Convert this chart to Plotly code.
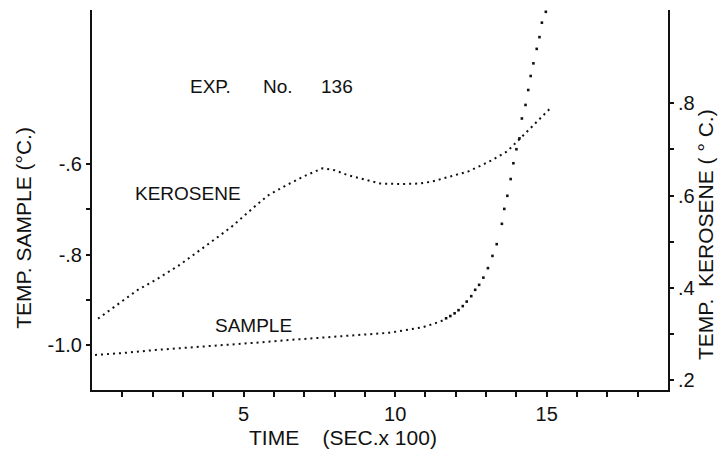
import plotly.graph_objects as go

# ---- data ----
kero_t = [0.2, 1.0, 1.5, 2.1, 2.9, 3.8, 4.6, 5.4, 5.8, 6.4, 7.0, 7.6, 8.0, 8.4,
          9.0, 9.5, 10.2, 10.8, 11.2, 11.8, 12.4, 12.8, 13.2, 13.7, 14.1, 14.4,
          14.7, 15.1]
kero_v = [0.333, 0.372, 0.395, 0.417, 0.450, 0.493, 0.532, 0.578, 0.600, 0.622,
          0.642, 0.659, 0.655, 0.645, 0.634, 0.626, 0.625, 0.626, 0.630, 0.641,
          0.652, 0.664, 0.677, 0.696, 0.722, 0.742, 0.760, 0.788]

sample_t = [0.1, 1.0, 2.1, 3.2, 4.3, 5.4, 6.5, 7.6, 8.7, 9.8, 10.9, 11.5,
            11.68, 11.82, 11.96, 12.09, 12.23, 12.36, 12.51, 12.64, 12.77, 12.91,
            13.06, 13.21, 13.35, 13.52, 13.60, 13.70, 13.81, 13.90, 14.00, 14.10,
            14.18, 14.30, 14.39, 14.47, 14.56, 14.67, 14.76, 14.84, 14.97]
sample_v = [-1.022, -1.018, -1.011, -1.006, -1.000, -0.995, -0.989, -0.984, -0.978,
            -0.973, -0.961, -0.948,
            -0.941, -0.936, -0.930, -0.923, -0.914, -0.904, -0.892, -0.878, -0.867,
            -0.851, -0.830, -0.803, -0.777, -0.732, -0.699, -0.670, -0.633, -0.598,
            -0.567, -0.543, -0.499, -0.469, -0.436, -0.405, -0.377, -0.345, -0.319,
            -0.287, -0.263]
STEEP_START = 12  # index where individual sample dots become widely spaced

x_ticks = list(range(1, 19))
x_labels = ["5" if v == 5 else "10" if v == 10 else "15" if v == 15 else "" for v in x_ticks]
left_ticks = [-1.0, -0.9, -0.8, -0.7, -0.6]
left_labels = ["-1.0", "", "-.8", "", "-.6"]
right_ticks = [0.2, 0.3, 0.4, 0.5, 0.6, 0.7, 0.8]
right_labels = [".2", "", ".4", "", ".6", "", ".8"]

X_RANGE = [0, 19.0]
LEFT_RANGE = [-1.0996, -0.259]
RIGHT_RANGE = [0.1783, 1.0023]

FONT = "Liberation Sans, Arial, sans-serif"
INK = "#111111"

fig = go.Figure()

# kerosene (right axis), dotted line
fig.add_trace(go.Scatter(x=kero_t, y=kero_v, yaxis="y2", mode="lines",
                         line=dict(color=INK, width=2, dash="2px,4px"),
                         hoverinfo="skip"))
# sample (left axis): dense dotted part, then individual dots
fig.add_trace(go.Scatter(x=sample_t[:STEEP_START + 1], y=sample_v[:STEEP_START + 1],
                         mode="lines", line=dict(color=INK, width=2, dash="2px,4px"),
                         hoverinfo="skip"))
fig.add_trace(go.Scatter(x=sample_t[STEEP_START:], y=sample_v[STEEP_START:],
                         mode="markers", marker=dict(color=INK, size=2.6, symbol="square"),
                         hoverinfo="skip"))

tickfont = dict(family=FONT, size=20, color=INK)

# page body adds an 8px offset; figure sized/positioned to compensate
fig.update_layout(
    width=718, height=441,
    margin=dict(l=84, r=58, t=2, b=59),
    paper_bgcolor="white", plot_bgcolor="white",
    showlegend=False,
    font=dict(family=FONT, color=INK),
    xaxis=dict(range=X_RANGE, tickmode="array", tickvals=x_ticks, ticktext=x_labels,
               ticks="outside", ticklen=5, tickwidth=1.5, tickcolor=INK,
               showline=True, linewidth=2, linecolor=INK, showgrid=False,
               zeroline=False, tickfont=tickfont, fixedrange=True),
    xaxis2=dict(range=X_RANGE, overlaying="x", anchor="y", side="bottom",
                tickmode="array", tickvals=x_ticks, ticks="inside", ticklen=4,
                tickwidth=1.5, tickcolor=INK, showticklabels=False,
                showline=False, showgrid=False, zeroline=False),
    yaxis=dict(range=LEFT_RANGE, tickmode="array", tickvals=left_ticks,
               ticktext=left_labels, ticks="outside", ticklen=4, tickwidth=1.5,
               tickcolor=INK, showline=True, linewidth=2, linecolor=INK,
               showgrid=False, zeroline=False, tickfont=tickfont),
    yaxis2=dict(range=RIGHT_RANGE, overlaying="y", side="right", anchor="x",
                tickmode="array", tickvals=right_ticks, ticktext=right_labels,
                ticks="outside", ticklen=4, tickwidth=1.5, tickcolor=INK,
                showline=True, linewidth=2, linecolor=INK, showgrid=False,
                zeroline=False, tickfont=tickfont),
    yaxis3=dict(range=LEFT_RANGE, overlaying="y", side="left", anchor="x",
                tickmode="array", tickvals=left_ticks, ticks="inside", ticklen=4,
                tickwidth=1.5, tickcolor=INK, showticklabels=False,
                showline=False, showgrid=False, zeroline=False),
    yaxis4=dict(range=RIGHT_RANGE, overlaying="y", side="right", anchor="x",
                tickmode="array", tickvals=right_ticks, ticks="inside", ticklen=5,
                tickwidth=1.5, tickcolor=INK, showticklabels=False,
                showline=False, showgrid=False, zeroline=False),
)

txt = dict(family=FONT, size=19, color=INK)
title_font = dict(family=FONT, size=21, color=INK)
annos = [
    dict(text="EXP.", x=3.9, y=-0.429),
    dict(text="No.", x=6.15, y=-0.429),
    dict(text="136", x=8.08, y=-0.429),
    dict(text="KEROSENE", x=3.17, y=-0.664),
    dict(text="SAMPLE", x=5.33, y=-0.956),
]
for a in annos:
    fig.add_annotation(text=a["text"], x=a["x"], y=a["y"], xref="x", yref="y",
                       showarrow=False, font=txt, xanchor="center", yanchor="middle")

fig.add_annotation(text="TIME    (SEC.x 100)", x=0.436, y=-0.124, xref="paper", yref="paper",
                   showarrow=False, font=title_font, xanchor="center", yanchor="middle")
fig.add_annotation(text="TEMP. SAMPLE (°C.)", x=-0.119, y=0.428, xref="paper", yref="paper",
                   showarrow=False, font=title_font, textangle=-90, xanchor="center", yanchor="middle")
fig.add_annotation(text="TEMP.  KEROSENE ( ° C.)", x=1.064, y=0.41, xref="paper", yref="paper",
                   showarrow=False, font=title_font, textangle=-90, xanchor="center", yanchor="middle")

fig.write_html("out.html")
